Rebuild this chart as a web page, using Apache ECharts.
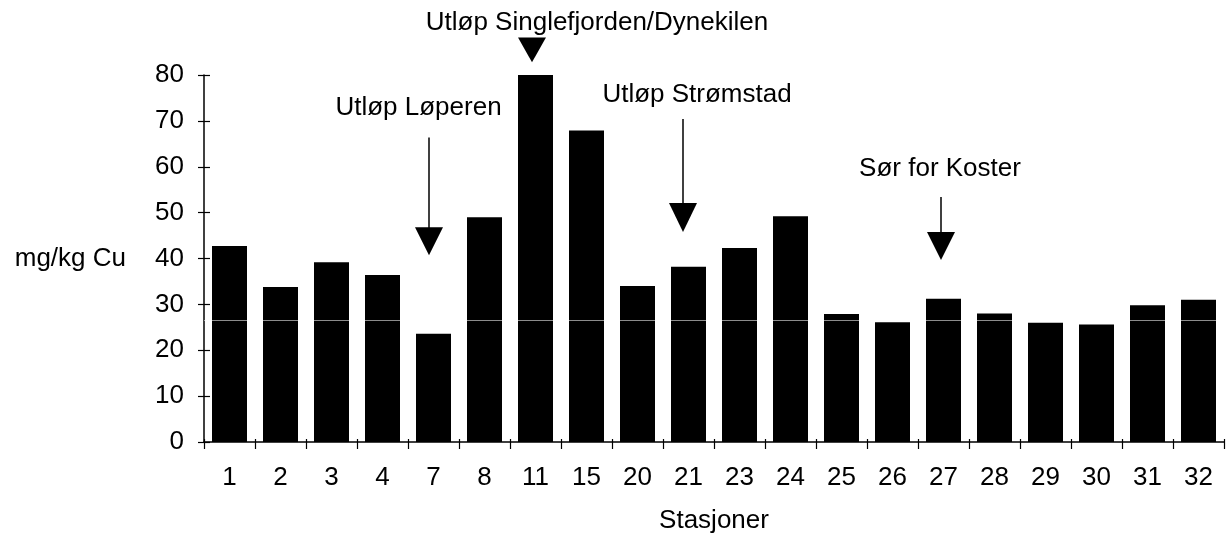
<!DOCTYPE html>
<html>
<head>
<meta charset="utf-8">
<script src="https://cdn.jsdelivr.net/npm/echarts@6/dist/echarts.min.js"></script>
<style>
  html, body { margin: 0; padding: 0; background: #fff; }
  #chart { width: 1226px; height: 543px; }
</style>
</head>
<body>
<div id="chart"></div>
<script>
  // stasjoner og kobberverdier (mg/kg Cu)
  const stations = ['1', '2', '3', '4', '7', '8', '11', '15', '20', '21', '23', '24', '25', '26', '27', '28', '29', '30', '31', '32'];
  const copper = [42.7, 33.8, 39.2, 36.4, 23.6, 49.0, 80.0, 67.9, 34.0, 38.2, 42.3, 49.2, 27.9, 26.1, 31.2, 28.0, 26.0, 25.6, 29.8, 31.0];
  const yTicks = { min: 0, max: 80, interval: 10 };
  // svak grå skannelinje over søylene
  const scanLine = 26.5;

  // piler: stasjon, tekst, tekstens y, linjetopp, pilhode topp, pilspiss
  const notes = [
    { station: '7', text: 'Utløp Løperen', textY: 72.8, lineTop: 66.4, headTop: 46.8, tip: 40.7, textDx: -15, arrowDx: -4.5 },
    { station: '11', text: 'Utløp Singlefjorden/Dynekilen', textY: 91.3, lineTop: null, headTop: 88.2, tip: 82.8, textDx: 61.5, arrowDx: -3.5 },
    { station: '21', text: 'Utløp Strømstad', textY: 75.6, lineTop: 70.4, headTop: 52.1, tip: 45.8, textDx: 8.5, arrowDx: -5.5 },
    { station: '27', text: 'Sør for Koster', textY: 59.6, lineTop: 53.4, headTop: 45.8, tip: 39.7, textDx: -3.5, arrowDx: -2.5 }
  ];

  const font = 'Liberation Sans, Arial, Helvetica, sans-serif';
  const chart = echarts.init(document.getElementById('chart'));

  chart.setOption({
    animation: false,
    backgroundColor: '#fff',
    textStyle: { fontFamily: font, color: '#000' },
    grid: { left: 204, right: 2, top: 75, bottom: 101, containLabel: false },
    xAxis: [
      {
        type: 'category',
        data: stations,
        name: 'Stasjoner',
        nameLocation: 'middle',
        nameGap: 66,
        nameTextStyle: { fontSize: 26, color: '#000', fontFamily: font },
        axisLine: { lineStyle: { color: '#000', width: 1.5 } },
        axisTick: { show: true, length: 7, lineStyle: { color: '#000', width: 1.2 } },
        axisLabel: { fontSize: 26, color: '#000', margin: 23, fontFamily: font },
        splitLine: { show: false }
      },
      {
        type: 'category',
        data: stations,
        position: 'bottom',
        axisLine: { show: false },
        axisTick: { show: true, inside: true, length: 3, lineStyle: { color: '#000', width: 1.2 } },
        axisLabel: { show: false },
        splitLine: { show: false }
      }
    ],
    yAxis: [
      {
        type: 'value',
        min: yTicks.min,
        max: yTicks.max,
        interval: yTicks.interval,
        name: 'mg/kg Cu',
        nameLocation: 'middle',
        nameRotate: 0,
        nameGap: 78,
        nameTextStyle: { fontSize: 26, color: '#000', fontFamily: font, align: 'right', verticalAlign: 'middle' },
        axisLine: { show: true, lineStyle: { color: '#000', width: 1.5 } },
        axisTick: { show: true, length: 6, lineStyle: { color: '#000', width: 1.2 } },
        axisLabel: { fontSize: 26, color: '#000', margin: 20, fontFamily: font },
        splitLine: { show: false }
      },
      {
        type: 'value',
        min: yTicks.min,
        max: yTicks.max,
        interval: yTicks.interval,
        position: 'left',
        axisLine: { show: false },
        axisTick: { show: true, inside: true, length: 6, lineStyle: { color: '#000', width: 1.2 } },
        axisLabel: { show: false },
        splitLine: { show: false }
      }
    ],
    series: [
      {
        type: 'bar',
        data: copper,
        barWidth: 35,
        itemStyle: { color: '#000' },
        markLine: {
          silent: true,
          symbol: 'none',
          label: { show: false },
          lineStyle: { color: 'rgba(255,255,255,0.55)', width: 1, type: 'solid' },
          data: [{ yAxis: scanLine }]
        }
      }
    ]
  });

  // tegn pilene ut fra aksene
  const graphics = [];
  notes.forEach(n => {
    const px = (v) => chart.convertToPixel({ xAxisIndex: 0, yAxisIndex: 0 }, [n.station, v]);
    const base = px(n.tip);
    const ax = base[0] + n.arrowDx;
    const tipY = base[1];
    const headTop = px(n.headTop)[1];
    const textY = px(n.textY)[1];
    graphics.push({
      type: 'text',
      x: base[0] + n.textDx,
      y: textY,
      style: { text: n.text, font: '26px ' + font, fill: '#000', align: 'center', verticalAlign: 'middle' }
    });
    if (n.lineTop != null) {
      graphics.push({
        type: 'line',
        shape: { x1: ax, y1: px(n.lineTop)[1], x2: ax, y2: headTop + 2 },
        style: { stroke: '#000', lineWidth: 1.5 }
      });
    }
    graphics.push({
      type: 'polygon',
      shape: { points: [[ax - 14, headTop], [ax + 14, headTop], [ax, tipY]] },
      style: { fill: '#000' }
    });
  });
  chart.setOption({ graphic: graphics });
</script>
</body>
</html>
